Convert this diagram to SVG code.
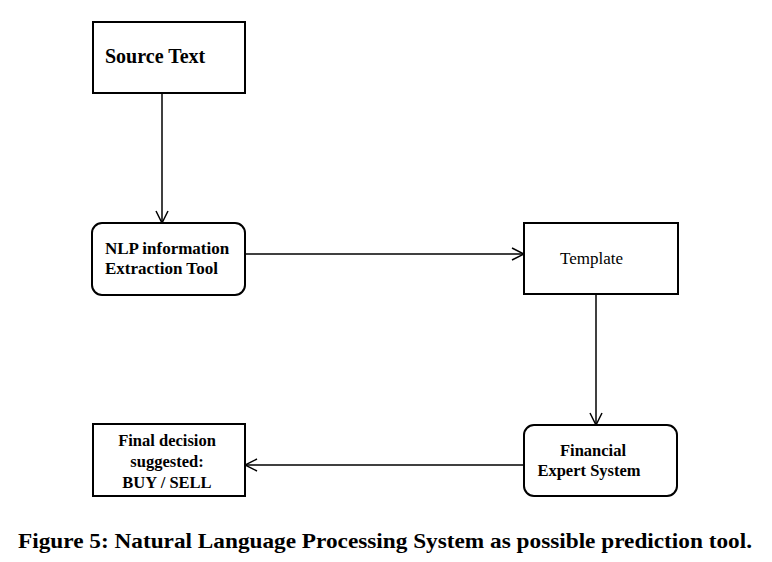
<svg xmlns="http://www.w3.org/2000/svg" width="772" height="562" viewBox="0 0 772 562">
<style>
.box{fill:#fff;stroke:#000;stroke-width:2}
.t{font-family:"Liberation Serif",serif;font-size:16.5px;fill:#000}
.b{font-weight:bold}
.c{stroke:#000;stroke-width:1.5;fill:none}
</style>
<defs>
<marker id="ah" viewBox="0 0 14 14" refX="13" refY="7" markerWidth="14" markerHeight="14" markerUnits="userSpaceOnUse" orient="auto">
<path d="M1,1 L13,7 L1,13" fill="none" stroke="#000" stroke-width="1.5"/>
</marker>
</defs>
<rect width="772" height="562" fill="#fff"/>
<g id="connectors">
<line class="c" x1="162" y1="93" x2="162" y2="223" marker-end="url(#ah)"/>
<line class="c" x1="245" y1="254" x2="524" y2="254" marker-end="url(#ah)"/>
<line class="c" x1="596" y1="294" x2="596" y2="425" marker-end="url(#ah)"/>
<line class="c" x1="524" y1="465" x2="245" y2="465" marker-end="url(#ah)"/>
</g>
<g id="source">
<rect class="box" x="93" y="22" width="152" height="71"/>
<text class="t b" x="105" y="63" style="font-size:20px">Source Text</text>
</g>
<g id="nlp">
<rect class="box" x="92" y="223" width="153" height="72" rx="10"/>
<text class="t b" x="105" y="254" style="font-size:17px">NLP information</text>
<text class="t b" x="105" y="274" style="font-size:17px">Extraction Tool</text>
</g>
<g id="template">
<rect class="box" x="524" y="223" width="154" height="71"/>
<text class="t" x="560" y="264" style="font-size:17px">Template</text>
</g>
<g id="financial">
<rect class="box" x="524" y="425" width="153" height="71" rx="10"/>
<text class="t b" x="593" y="456" text-anchor="middle">Financial</text>
<text class="t b" x="589" y="476" text-anchor="middle">Expert System</text>
</g>
<g id="final">
<rect class="box" x="93" y="424" width="152" height="72"/>
<text class="t b" x="167" y="446" text-anchor="middle">Final decision</text>
<text class="t b" x="167" y="467" text-anchor="middle">suggested:</text>
<text class="t b" x="167" y="488" text-anchor="middle">BUY / SELL</text>
</g>
<text class="t b" x="18" y="548" style="font-size:22px" textLength="734" lengthAdjust="spacingAndGlyphs">Figure 5: Natural Language Processing System as possible prediction tool.</text>
</svg>
